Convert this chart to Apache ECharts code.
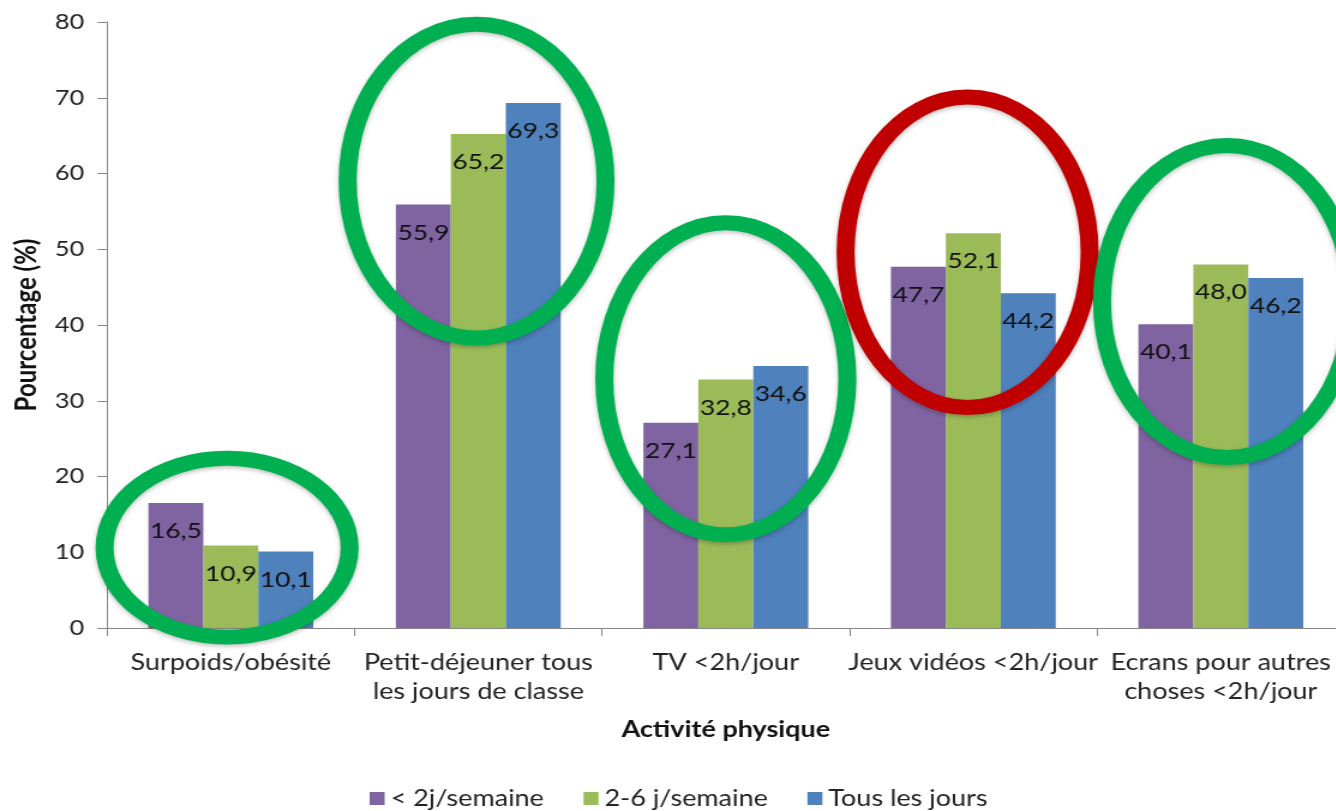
<!DOCTYPE html>
<html>
<head>
<meta charset="utf-8">
<script src="https://cdn.jsdelivr.net/npm/echarts@6/dist/echarts.min.js"></script>
<style>
html, body { margin: 0; padding: 0; background: #ffffff; overflow: hidden; width: 1336px; height: 811px; }
#chart { width: 1130px; height: 811px; transform: scaleX(1.2); transform-origin: 0 0; }
</style>
</head>
<body>
<div id="chart"></div>
<script>
// ---- data ----
const categories = ['Surpoids/obésité', 'Petit-déjeuner tous\nles jours de classe', 'TV <2h/jour', 'Jeux vidéos <2h/jour', 'Ecrans pour autres\nchoses <2h/jour'];
const seriesNames = ['< 2j/semaine', '2-6 j/semaine', 'Tous les jours'];
const lessThan2Days = [16.5, 55.9, 27.1, 47.7, 40.1];
const twoToSixDays = [10.9, 65.2, 32.8, 52.1, 48.0];
const everyDay = [10.1, 69.3, 34.6, 44.2, 46.2];
const yTicks = [0, 10, 20, 30, 40, 50, 60, 70, 80];
const yAxisTitle = 'Pourcentage (%)';
const xAxisTitle = 'Activité physique';

// annotation ellipses (category index, centre value, half-width in category bands, half-height in value units, offset in bands, verdict)
const ellipseCategory = [0, 1, 2, 3, 4];
const ellipseCenterValue = [10.6, 59.0, 32.9, 49.6, 43.1];
const ellipseHalfWidth = [0.495, 0.521, 0.491, 0.493, 0.505];
const ellipseHalfHeight = [11.8, 20.7, 20.6, 20.5, 20.6];
const ellipseOffset = [-0.015, -0.007, 0, -0.023, 0.025];
const ellipseVerdict = ['good', 'good', 'good', 'bad', 'good'];

// ---- chart ----
const FONT = 'Lato';
const colors = ['#8064A2', '#9BBB59', '#4F81BD'];
const verdictColor = { good: '#00B050', bad: '#C00000' };
const fmt = v => v.toFixed(1).replace('.', ',');

const chart = echarts.init(document.getElementById('chart'), null, { renderer: 'canvas' });

const barSeries = [lessThan2Days, twoToSixDays, everyDay].map((vals, i) => ({
  name: seriesNames[i],
  type: 'bar',
  data: vals,
  barWidth: 45.8,
  barGap: '0%',
  itemStyle: { color: colors[i] },
  label: {
    show: true,
    position: 'insideTop',
    distance: 17,
    color: '#111',
    fontFamily: FONT,
    fontSize: 22,
    formatter: p => fmt(p.value)
  },
  z: 2
}));

const ellipseData = ellipseCategory.map((c, i) => [c, ellipseCenterValue[i], ellipseHalfWidth[i], ellipseHalfHeight[i], ellipseOffset[i], i]);

chart.setOption({
  animation: false,
  backgroundColor: '#ffffff',
  textStyle: { fontFamily: FONT },
  color: colors,
  grid: { left: 89.2, top: 22, width: 1031.25, bottom: 183, containLabel: false },
  legend: {
    data: seriesNames,
    left: 303,
    top: 782,
    itemWidth: 12.5,
    itemHeight: 13,
    itemGap: 33,
    icon: 'rect',
    textStyle: { fontFamily: FONT, fontSize: 22.5, color: '#222' }
  },
  xAxis: {
    type: 'category',
    data: categories,
    name: xAxisTitle,
    nameLocation: 'middle',
    nameGap: 90,
    nameTextStyle: { fontFamily: FONT, fontSize: 22.5, fontWeight: 'bold', color: '#111' },
    axisLine: { lineStyle: { color: '#868686', width: 1 } },
    axisTick: { show: true, length: 8, lineStyle: { color: '#868686' } },
    axisLabel: { color: '#222', fontFamily: FONT, fontSize: 22.5, lineHeight: 29, margin: 20, interval: 0 }
  },
  yAxis: {
    type: 'value',
    min: yTicks[0],
    max: yTicks[yTicks.length - 1],
    interval: yTicks[1] - yTicks[0],
    name: yAxisTitle,
    nameLocation: 'middle',
    nameGap: 55,
    nameRotate: 90,
    nameTextStyle: { fontFamily: FONT, fontSize: 24, fontWeight: 'bold', color: '#111' },
    axisLine: { show: true, lineStyle: { color: '#868686', width: 1 } },
    axisTick: { show: true, length: 8, lineStyle: { color: '#868686' } },
    splitLine: { show: false },
    axisLabel: { color: '#222', fontFamily: FONT, fontSize: 21, margin: 19 }
  },
  series: barSeries.concat([{
    type: 'custom',
    name: 'annotations',
    data: ellipseData,
    encode: { x: 0, y: 1 },
    clip: false,
    silent: true,
    z: 10,
    renderItem: (params, api) => {
      const c = api.coord([api.value(0), api.value(1)]);
      const sz = api.size([1, api.value(3)]);
      const idx = api.value(5);
      return {
        type: 'ellipse',
        shape: { cx: c[0] + api.value(4) * sz[0], cy: c[1], rx: api.value(2) * sz[0], ry: sz[1] },
        style: {
          fill: null,
          stroke: verdictColor[ellipseVerdict[idx]],
          lineWidth: 15,
          shadowBlur: 4,
          shadowColor: 'rgba(0,0,0,0.25)',
          shadowOffsetY: 2
        }
      };
    }
  }])
});
</script>
</body>
</html>
